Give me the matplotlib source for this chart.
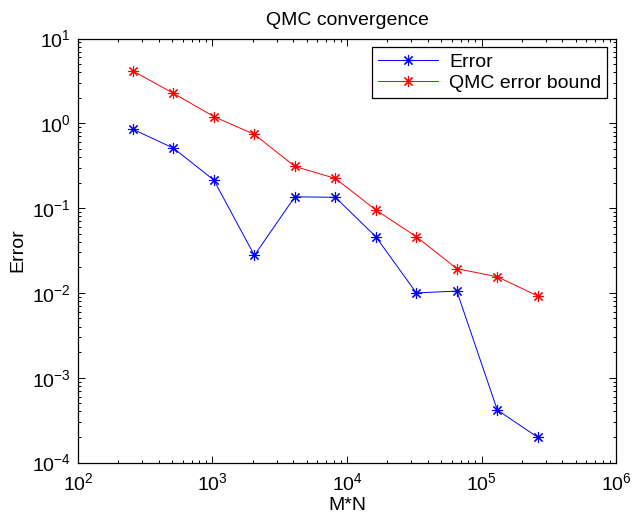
import matplotlib
matplotlib.use("Agg")
from matplotlib import pyplot as plt
from matplotlib.ticker import LogLocator, NullFormatter

plt.rcParams["font.family"] = ["Liberation Sans", "DejaVu Sans"]
plt.rcParams["mathtext.fontset"] = "custom"
plt.rcParams["mathtext.rm"] = "Liberation Sans"
plt.rcParams["mathtext.it"] = "Liberation Sans:italic"

# samples M*N
mn = [256, 512, 1024, 2048, 4096, 8192, 16384, 32768, 65536, 131072, 262144]
# observed error
err = [0.85, 0.51, 0.214, 0.0277, 0.136, 0.134, 0.046, 0.0100, 0.0105, 4.16e-4, 1.98e-4]
# QMC error bound
bound = [4.14, 2.26, 1.2, 0.74, 0.31, 0.224, 0.095, 0.046, 0.0193, 0.0155, 0.0092]

fs = 14
fig = plt.figure(figsize=(6.32, 5.17), dpi=100)
ax = fig.add_axes([0.1234, 0.1054, 0.8513, 0.8201])

star = (8, 2, 0)
ax.loglog(mn, err, color=(0, 0, 1), lw=0.7, marker=star, ms=8, mew=0.8, label="Error")
ax.loglog(mn, bound, color=(1, 0, 0), lw=0.7, marker=star, ms=8, mew=0.8, label="QMC error bound")

ax.set_xlim(1e2, 1e6)
ax.set_ylim(1e-4, 1e1)
ax.xaxis.set_major_locator(LogLocator(base=10, numticks=10))
ax.yaxis.set_major_locator(LogLocator(base=10, numticks=10))
ax.xaxis.set_minor_locator(LogLocator(base=10, subs=range(2, 10), numticks=100))
ax.yaxis.set_minor_locator(LogLocator(base=10, subs=range(2, 10), numticks=100))
ax.xaxis.set_minor_formatter(NullFormatter())
ax.yaxis.set_minor_formatter(NullFormatter())

ax.tick_params(which="both", direction="in", top=True, right=True, labelsize=fs, width=0.7)
ax.tick_params(which="major", length=5)
ax.tick_params(axis="x", which="major", pad=7)
ax.tick_params(axis="y", which="major", pad=5)
ax.tick_params(which="minor", length=2.5)
for s in ax.spines.values():
    s.set_linewidth(0.9)

ax.set_xlabel("M*N", fontsize=fs, labelpad=2)
ax.set_ylabel("Error", fontsize=fs, labelpad=4)
ax.set_title("QMC convergence", fontsize=fs, pad=10)

leg = ax.legend(loc="upper right", fontsize=fs, fancybox=False, framealpha=1,
                edgecolor="black", borderaxespad=0.45, handlelength=3.1,
                handletextpad=0.55, borderpad=0.3, labelspacing=0.2)
leg.get_frame().set_linewidth(0.9)

plt.savefig("out.png", dpi=100)
